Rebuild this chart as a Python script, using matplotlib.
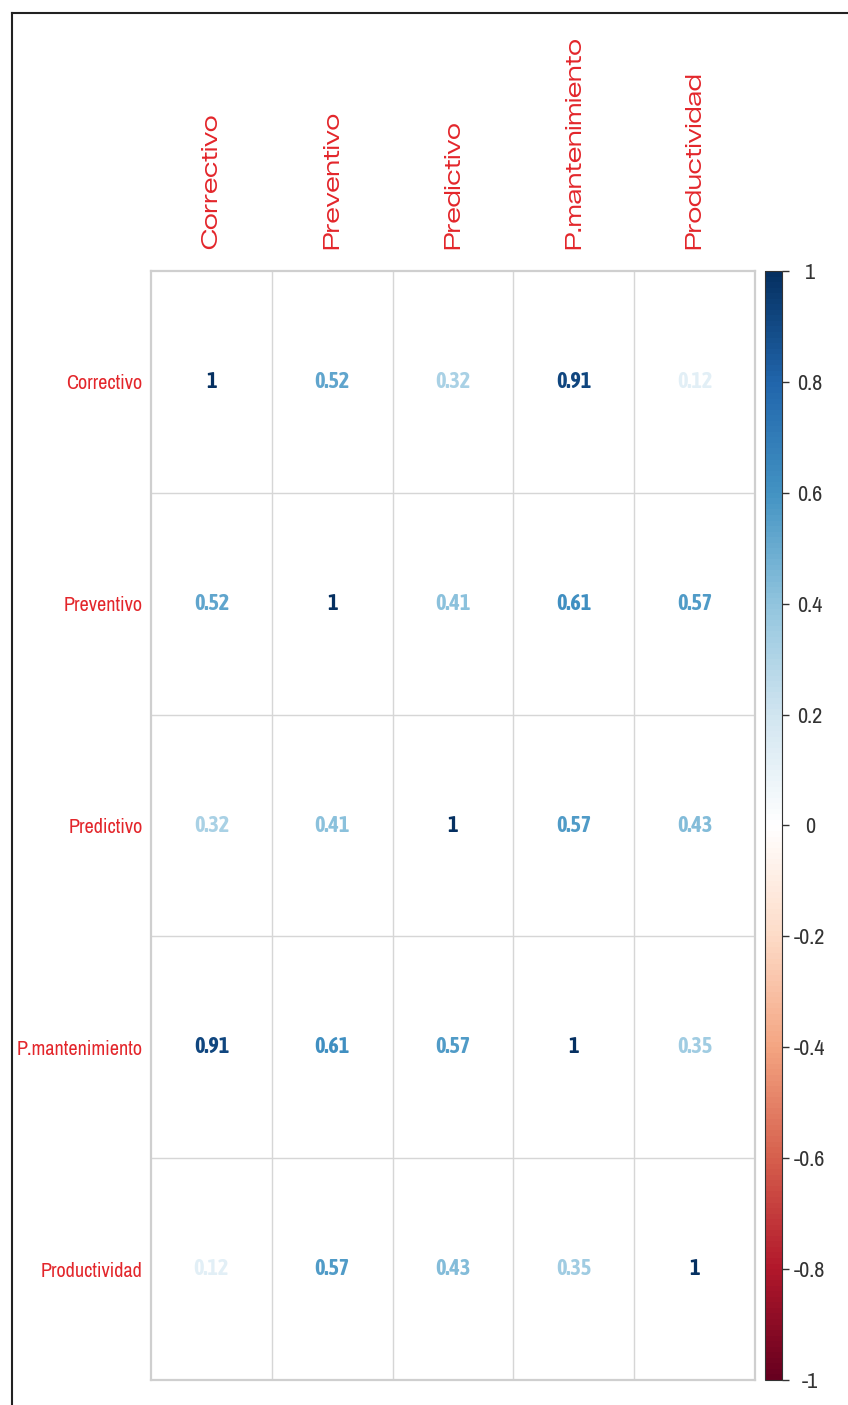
import matplotlib
matplotlib.use("Agg")
import matplotlib.pyplot as plt
from matplotlib.colors import LinearSegmentedColormap, Normalize
from matplotlib.cm import ScalarMappable
from matplotlib.lines import Line2D
import numpy as np

# data
variables = ["Correctivo", "Preventivo", "Predictivo", "P.mantenimiento", "Productividad"]
row_correctivo = [1.00, 0.52, 0.32, 0.91, 0.12]
row_preventivo = [0.52, 1.00, 0.41, 0.61, 0.57]
row_predictivo = [0.32, 0.41, 1.00, 0.57, 0.43]
row_pmant = [0.91, 0.61, 0.57, 1.00, 0.35]
row_productividad = [0.12, 0.57, 0.43, 0.35, 1.00]
cbar_ticks = [1, 0.8, 0.6, 0.4, 0.2, 0, -0.2, -0.4, -0.6, -0.8, -1]
cbar_labels = ["1", "0.8", "0.6", "0.4", "0.2", "0", "-0.2", "-0.4", "-0.6", "-0.8", "-1"]

corr = np.array([row_correctivo, row_preventivo, row_predictivo, row_pmant, row_productividad])

# corrplot RdBu palette
col2 = ["#67001F", "#B2182B", "#D6604D", "#F4A582", "#FDDBC7", "#FFFFFF",
        "#D1E5F0", "#92C5DE", "#4393C3", "#2166AC", "#053061"]
cmap = LinearSegmentedColormap.from_list("corr_rdbu", col2, N=200)
norm = Normalize(vmin=-1, vmax=1)

narrow = ["Archivo Narrow", "Liberation Sans", "DejaVu Sans"]
narrow_bold = ["Asap Condensed", "Archivo Narrow", "Liberation Sans", "DejaVu Sans"]
wide = ["Zalando Sans Expanded", "Liberation Sans", "DejaVu Sans"]
label_red = "#e3262b"

W, H = 848, 1405
fig = plt.figure(figsize=(W / 100, H / 100), dpi=100)

# grid area in pixels
gx0, gx1, gy0, gy1 = 151, 755, 271, 1380
ax = fig.add_axes([gx0 / W, 1 - gy1 / H, (gx1 - gx0) / W, (gy1 - gy0) / H])
n = len(variables)
ax.set_xlim(0, n)
ax.set_ylim(n, 0)

for k in range(1, n):
    ax.axvline(k, color="#d6d6d6", lw=1.0)
    ax.axhline(k, color="#d6d6d6", lw=1.0)
for s in ax.spines.values():
    s.set_color("#cfcfcf")
    s.set_linewidth(1.6)

for i in range(n):
    for j in range(n):
        v = corr[i, j]
        txt = "1" if v == 1 else f"{v:.2f}"
        ax.text(j + 0.5, i + 0.5, txt, ha="center", va="center",
                fontsize=16, fontweight="bold", family=narrow_bold,
                color=cmap(norm(v)))

ax.set_xticks(np.arange(n) + 0.5)
ax.set_yticks(np.arange(n) + 0.5)
ax.xaxis.tick_top()
ax.set_xticklabels(variables, rotation=90, fontsize=16.5, color=label_red,
                   family=wide, va="bottom")
ax.set_yticklabels(variables, fontsize=14.5, color=label_red, family=narrow)
ax.tick_params(axis="x", length=0, pad=16)
ax.tick_params(axis="y", length=0, pad=6)

# colour legend
cx0, cx1 = 765, 782
cax = fig.add_axes([cx0 / W, 1 - gy1 / H, (cx1 - cx0) / W, (gy1 - gy0) / H])
sm = ScalarMappable(norm=norm, cmap=cmap)
cb = fig.colorbar(sm, cax=cax)
cb.outline.set_edgecolor("#333333")
cb.outline.set_linewidth(0.8)
cb.set_ticks(cbar_ticks)
cb.set_ticklabels(cbar_labels)
cax.tick_params(axis="y", length=5, width=1, color="#333333", pad=15,
                labelsize=16, labelcolor="#333333")
for lab in cax.get_yticklabels():
    lab.set_horizontalalignment("center")
    lab.set_family(narrow)

# outer frame lines (left and top)
fig.add_artist(Line2D([12 / W, 12 / W], [0, 1 - 13 / H], transform=fig.transFigure,
                      color="#222222", lw=1.5))
fig.add_artist(Line2D([12 / W, 1], [1 - 13 / H, 1 - 13 / H], transform=fig.transFigure,
                      color="#222222", lw=1.5))

fig.savefig("out.png", dpi=100)
